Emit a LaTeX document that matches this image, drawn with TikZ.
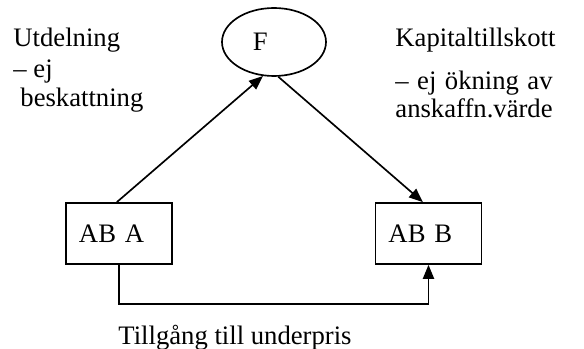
\documentclass[tikz,border=0pt]{standalone}
\usepackage{fontspec}
\setmainfont{Liberation Serif}
\usepackage{calc}
\usetikzlibrary{arrows.meta}
\usetikzlibrary{shapes.geometric}

\tikzset{
	firm/.style={rectangle,draw,line width=0.75pt,minimum width=47.7pt,minimum height=27.45pt,text width=36pt,inner xsep=5.85pt,align=left},
	owner/.style={ellipse,draw,line width=0.75pt,minimum width=46.8pt,minimum height=30.6pt,text width=19pt,inner sep=0pt,align=left},
	note/.style={anchor=base west,inner sep=0pt},
	flow/.style={line width=0.75pt,-{Triangle[length=6.3pt,width=5pt]}}
}

\begin{document}
\begin{tikzpicture}[x=0.45pt,y=-0.45pt,font=\fontsize{12}{13.8}\selectfont]
	\useasboundingbox (0,0) rectangle (584,349);

	\node[owner](F) at (274,42) {F};
	\node[firm](A) at (119,233.5) {AB A};
	\node[firm](B) at (428.5,233.5) {AB B};

	% left note
	\node[note](ut1) at (13,47) {Utdelning};
	\node[note](ut2) at (13,78) {– ej};
	\node[note](ut3) at (20,107) {beskattning};

	% right note
	\node[note](ka1) at (395,47) {Kapitaltillskott};
	\node[note](ka2) at (395,90) {\makebox[\widthof{anskaffn.värde}][s]{– ej ökning av}};
	\node[note](ka3) at (395,118) {anskaffn.värde};

	% bottom note
	\node[note](ti) at (118,345) {Tillgång till underpris};

	\draw[flow] (A.94) -- (F.-108);
	\draw[flow] (F.-83) -- (B.100);
	\draw[flow] (A.south) -- ++(0,39) -| (B.south);
\end{tikzpicture}
\end{document}
